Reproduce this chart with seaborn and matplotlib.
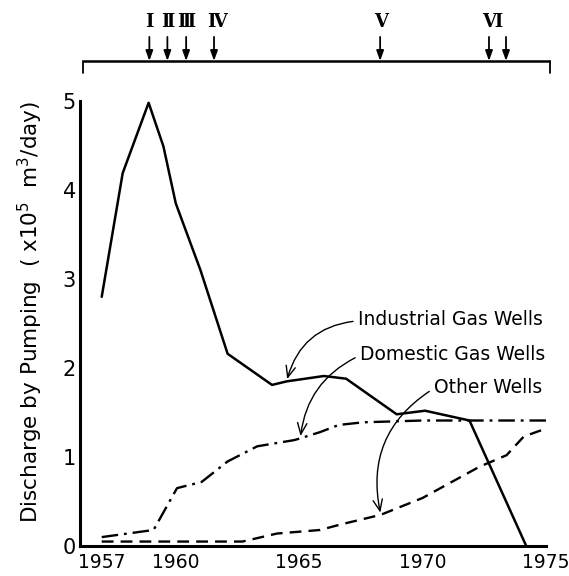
import matplotlib
matplotlib.use("Agg")
import matplotlib.pyplot as plt
import seaborn as sns
import pandas as pd

# ---- data ----
ind_years = [1957.0, 1957.85, 1958.9, 1959.5, 1960.0, 1961.0, 1962.1, 1963.9,
             1964.5, 1966.0, 1966.9, 1968.95, 1970.1, 1971.9, 1974.2]
ind_vals = [2.80, 4.19, 4.98, 4.49, 3.85, 3.10, 2.16, 1.81,
            1.85, 1.91, 1.88, 1.48, 1.52, 1.41, 0.0]

dom_years = [1957.0, 1959.1, 1960.05, 1961.05, 1962.1, 1963.3, 1964.8, 1965.05,
             1965.85, 1966.6, 1967.6, 1970.0, 1975.0]
dom_vals = [0.10, 0.18, 0.65, 0.72, 0.95, 1.12, 1.19, 1.21,
            1.28, 1.36, 1.39, 1.41, 1.41]

oth_years = [1957.0, 1962.7, 1964.1, 1965.85, 1966.65, 1968.3, 1970.0,
             1972.3, 1973.4, 1974.1, 1975.0]
oth_vals = [0.05, 0.05, 0.14, 0.18, 0.24, 0.35, 0.54, 0.89, 1.02, 1.23, 1.32]

event_years = [1958.93, 1959.66, 1960.42, 1961.55, 1968.28, 1972.69, 1973.38]
event_labels = ["Ⅰ", "Ⅱ", "Ⅲ", "Ⅳ", "Ⅴ", "Ⅵ"]
event_label_years = [1958.93, 1959.66, 1960.42, 1961.68, 1968.3, 1972.83]
timeline_span = [1956.25, 1975.18]

x_ticks = [1957, 1960, 1965, 1970, 1975]
y_ticks = [0, 1, 2, 3, 4, 5]

series_names = ["Industrial Gas Wells", "Domestic Gas Wells", "Other Wells"]

# ---- styling ----
sns.set_theme(style="white")
plt.rcParams["font.family"] = ["DejaVu Sans"]
plt.rcParams["text.color"] = "black"
plt.rcParams["axes.labelcolor"] = "black"
plt.rcParams["xtick.color"] = "black"
plt.rcParams["ytick.color"] = "black"

fig = plt.figure(figsize=(5.69, 5.76), dpi=100)
ax = fig.add_axes([80 / 569, 30 / 576, 466 / 569, 445 / 576])

df_ind = pd.DataFrame({"year": ind_years, "val": ind_vals})
df_dom = pd.DataFrame({"year": dom_years, "val": dom_vals})
df_oth = pd.DataFrame({"year": oth_years, "val": oth_vals})

sns.lineplot(data=df_ind, x="year", y="val", color="black", lw=1.8,
             linestyle="-", ax=ax, sort=False)
sns.lineplot(data=df_dom, x="year", y="val", color="black", lw=1.7,
             linestyle=(0, (7, 2.5, 1.2, 2.5)), ax=ax, sort=False)
sns.lineplot(data=df_oth, x="year", y="val", color="black", lw=1.7,
             linestyle=(0, (5, 3)), ax=ax, sort=False)

ax.set_xlim(1956.12, 1975.0)
ax.set_ylim(0, 5)
ax.set_xticks(x_ticks)
ax.set_yticks(y_ticks)
ax.set_xticklabels([str(t) for t in x_ticks], fontsize=13.5)
ax.set_yticklabels([str(t) for t in y_ticks], fontsize=15)
ax.tick_params(direction="in", length=6, width=1.3, colors="black", pad=3)
ax.tick_params(axis="x", pad=5)

for s in ["top", "right"]:
    ax.spines[s].set_visible(False)
for s in ["left", "bottom"]:
    ax.spines[s].set_linewidth(2.2)
    ax.spines[s].set_color("black")

ax.set_xlabel("")
ax.set_ylabel("Discharge by Pumping  ( x10$^5$  m$^3$/day)", fontsize=15.5)
ax.yaxis.set_label_coords(-0.076, 0.525)

# ---- annotations with curved arrows ----
ann = [
    (series_names[0], (1964.5, 1.86), (1967.37, 2.54), 0.35),
    (series_names[1], (1965.05, 1.22), (1967.45, 2.15), 0.28),
    (series_names[2], (1968.3, 0.36), (1970.45, 1.78), 0.35),
]
for text, xy, xyt, rad in ann:
    ax.annotate(text, xy=xy, xytext=xyt, fontsize=13.5, ha="left",
                va="center", color="black",
                arrowprops=dict(arrowstyle="->,head_length=0.6,head_width=0.25",
                                color="black", lw=1.0,
                                connectionstyle=f"arc3,rad={rad}",
                                relpos=(0.0, 0.45), shrinkA=1, shrinkB=1))

# ---- event timeline above the plot ----
y_line = 5.45
ax.plot(timeline_span, [y_line, y_line], color="black", lw=1.8,
        clip_on=False, solid_capstyle="butt")
for xe in timeline_span:
    ax.plot([xe, xe], [y_line, y_line - 0.14], color="black", lw=1.3,
            clip_on=False)
for xe in event_years:
    ax.annotate("", xy=(xe, y_line), xytext=(xe, y_line + 0.27),
                annotation_clip=False,
                arrowprops=dict(arrowstyle="-|>,head_length=0.5,head_width=0.18",
                                color="black", lw=1.3, shrinkA=0, shrinkB=0))
for lab, xl in zip(event_labels, event_label_years):
    ax.text(xl, y_line + 0.44, lab, ha="center", va="center", fontsize=13,
            family=["DejaVu Serif", "DejaVu Sans"], fontweight="bold",
            color="black", clip_on=False)

fig.savefig("out.png", dpi=100, facecolor="white")
